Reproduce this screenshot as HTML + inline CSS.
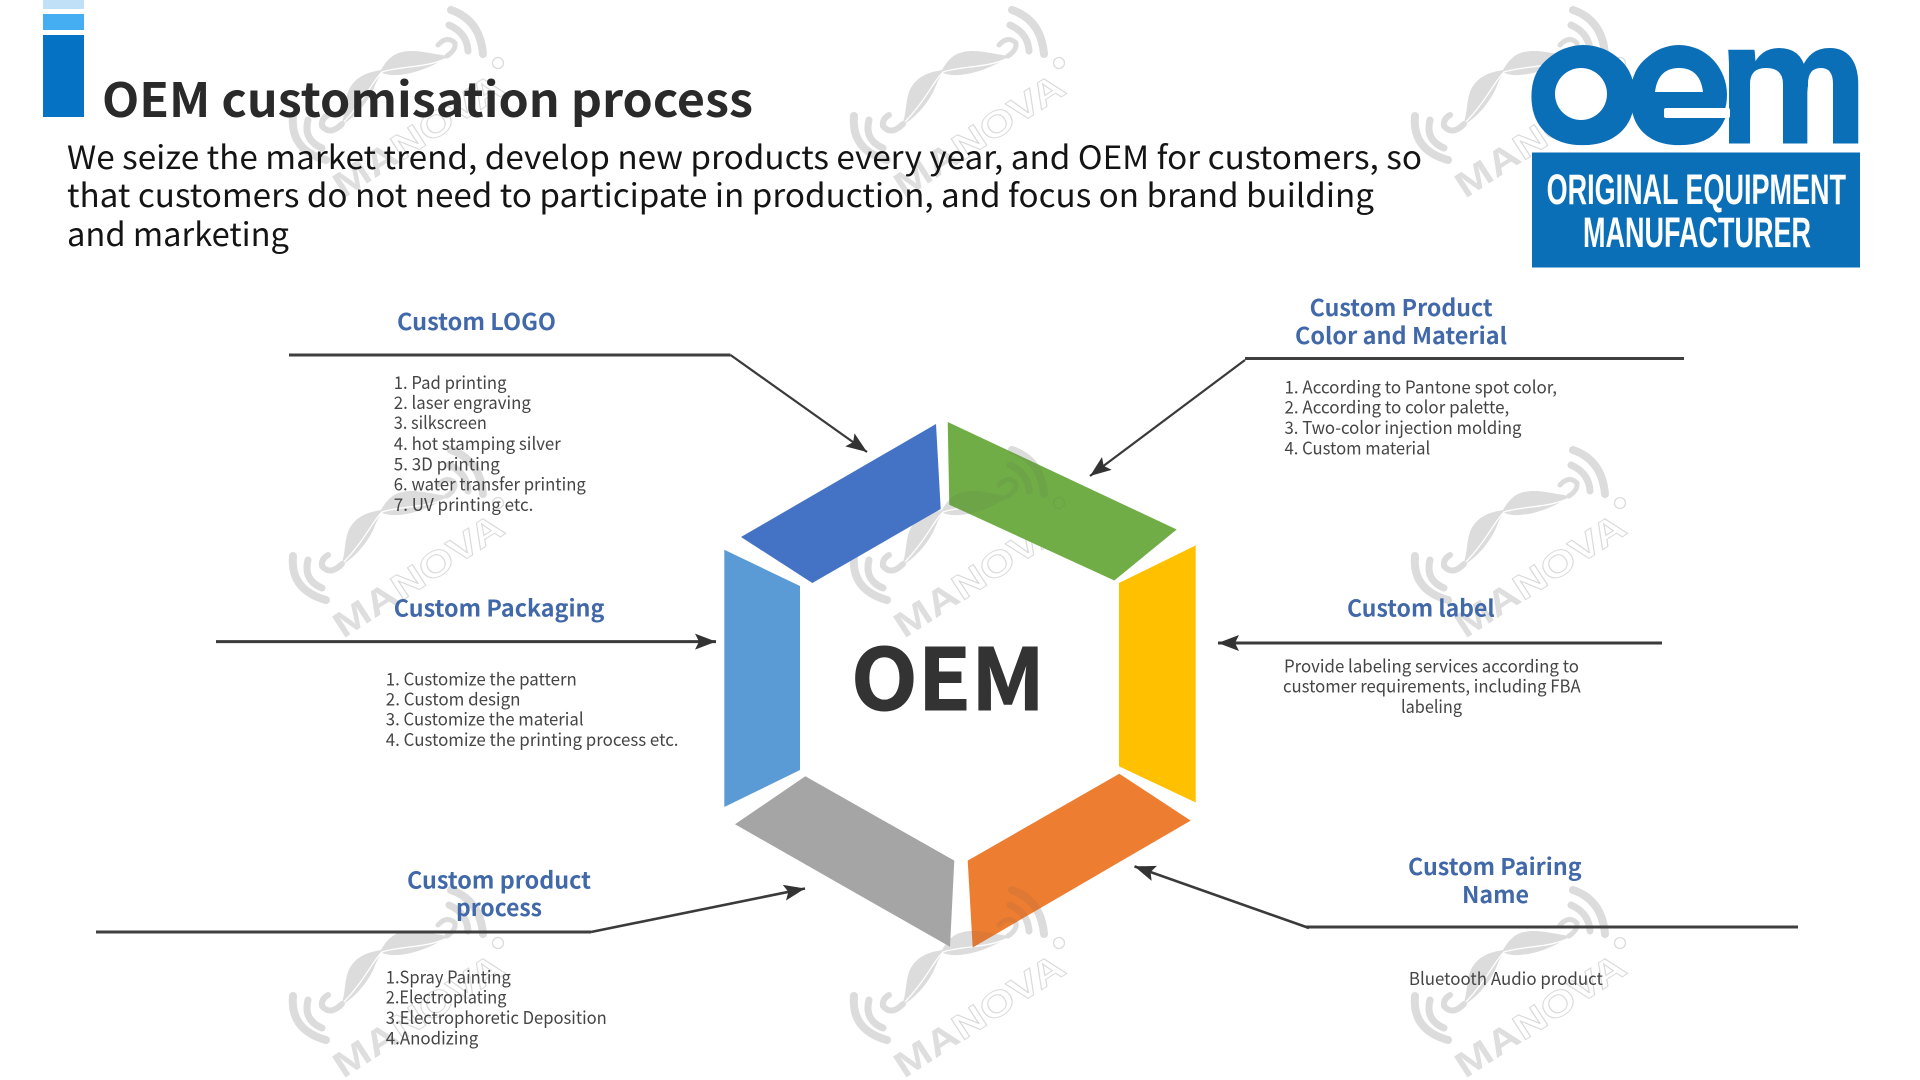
<!DOCTYPE html>
<html><head><meta charset="utf-8"><title>OEM customisation process</title>
<style>
html,body{margin:0;padding:0;background:#fff;width:1920px;height:1080px;overflow:hidden}
svg{display:block}
.t{font-family:"Noto Sans CJK SC","Liberation Sans",sans-serif}
.h{font-family:"Noto Sans CJK SC","Liberation Sans",sans-serif;font-weight:700;font-size:23px;fill:#4168a9}
.l{font-family:"Noto Sans CJK SC","Liberation Sans",sans-serif;font-size:17.5px;fill:#454545}
.b{font-family:"Noto Sans CJK SC","Liberation Sans",sans-serif;font-size:32px;fill:#141414}
.wm{font-family:"Liberation Sans",sans-serif;font-weight:700;font-size:36px}
.wm .f{fill:#dedede}
.wm .o{fill:#fff;stroke:#dadada;stroke-width:1}
.c{stroke:#3f3f3f;stroke-width:3;fill:none}
.a{stroke:#3a3a3a;stroke-width:2.2;fill:none;marker-end:url(#ah)}
</style></head><body>
<svg width="1920" height="1080" viewBox="0 0 1920 1080" xmlns="http://www.w3.org/2000/svg">
<defs>
<marker id="ah" markerUnits="userSpaceOnUse" markerWidth="24" markerHeight="18" refX="21" refY="8" orient="auto"><path d="M0,0 L21,8 L0,16 L4,8 Z" fill="#333"/></marker>
<g id="mark" fill="none" stroke="#dcdcdc" stroke-linecap="round">
<path d="M451,10 Q480,20 483,54" stroke-width="8"/>
<path d="M449,25 Q467,33 468,51" stroke-width="7"/>
<path d="M438,45 Q447,35 455,43 Q456,50 447,56" stroke-width="5"/>
<path d="M449,56 C430,54 412,47 396,54 C388,58 383,66 380,72 C395,80 425,72 449,56 Z" fill="#dcdcdc" stroke="none"/>
<path d="M382,70 C366,72 352,78 347,95 C344,108 345,118 340,126 C355,118 368,102 374,88 C377,80 380,76 382,70 Z" fill="#dcdcdc" stroke="none"/>
<path d="M445,59 C425,68 400,66 382,72 C372,82 365,100 343,123" stroke="#fff" stroke-width="1.3"/>
<path d="M342,124 Q330,136 322,126 Q321,119 328,115" stroke-width="6"/>
<path d="M293,116 Q290,150 326,160" stroke-width="8"/>
<path d="M308,120 Q303,140 322,148" stroke-width="7"/>
<circle cx="498" cy="63" r="5.5" stroke-width="1.3"/>
</g>
<clipPath id="hexclip"><polygon points="947.7,422 1176.7,529.5 1114.3,580.5 949.3,504.7"/><polygon points="1119.3,773.7 1190.7,820.6 972.7,947.5 967.7,860.6"/></clipPath>
</defs>

<!-- watermarks -->
<g>
<use href="#mark"/><use href="#mark" x="561"/><use href="#mark" x="1122"/>
<use href="#mark" y="440"/><use href="#mark" x="561" y="440"/><use href="#mark" x="1122" y="440"/>
<use href="#mark" y="880"/><use href="#mark" x="561" y="880"/><use href="#mark" x="1122" y="880"/>
<text class="wm" transform="translate(343,199) rotate(-33) scale(1.24,1)"><tspan class="f">MA</tspan><tspan class="o">NOVA</tspan></text>
<text class="wm" transform="translate(904,199) rotate(-33) scale(1.24,1)"><tspan class="f">MA</tspan><tspan class="o">NOVA</tspan></text>
<text class="wm" transform="translate(1465,199) rotate(-33) scale(1.24,1)"><tspan class="f">MA</tspan><tspan class="o">NOVA</tspan></text>
<text class="wm" transform="translate(343,639) rotate(-33) scale(1.24,1)"><tspan class="f">MA</tspan><tspan class="o">NOVA</tspan></text>
<text class="wm" transform="translate(904,639) rotate(-33) scale(1.24,1)"><tspan class="f">MA</tspan><tspan class="o">NOVA</tspan></text>
<text class="wm" transform="translate(1465,639) rotate(-33) scale(1.24,1)"><tspan class="f">MA</tspan><tspan class="o">NOVA</tspan></text>
<text class="wm" transform="translate(343,1079) rotate(-33) scale(1.24,1)"><tspan class="f">MA</tspan><tspan class="o">NOVA</tspan></text>
<text class="wm" transform="translate(904,1079) rotate(-33) scale(1.24,1)"><tspan class="f">MA</tspan><tspan class="o">NOVA</tspan></text>
<text class="wm" transform="translate(1465,1079) rotate(-33) scale(1.24,1)"><tspan class="f">MA</tspan><tspan class="o">NOVA</tspan></text>
</g>

<!-- header bars -->
<rect x="43" y="0" width="41" height="9" fill="#bfe0f6"/>
<rect x="43" y="14" width="41" height="16" fill="#45aef2"/>
<rect x="43" y="35" width="41" height="82" fill="#0572c4"/>

<text class="t" x="102" y="117" font-size="47" font-weight="700" fill="#2a2a2a" textLength="651" lengthAdjust="spacingAndGlyphs">OEM customisation process</text>
<text class="b" x="67" y="169" textLength="1355" lengthAdjust="spacingAndGlyphs">We seize the market trend, develop new products every year, and OEM for customers, so</text>
<text class="b" x="67" y="207" textLength="1307" lengthAdjust="spacingAndGlyphs">that customers do not need to participate in production, and focus on brand building</text>
<text class="b" x="67" y="246" textLength="222" lengthAdjust="spacingAndGlyphs">and marketing</text>

<!-- logo -->
<g font-family="'Liberation Sans',sans-serif" font-weight="700" fill="#0b6fb8" stroke="#0b6fb8" stroke-width="5" font-size="168">
<text x="1527" y="141" textLength="112" lengthAdjust="spacingAndGlyphs">o</text>
<text x="1626" y="141" textLength="104" lengthAdjust="spacingAndGlyphs">e</text>
<text x="1720" y="141" textLength="146" lengthAdjust="spacingAndGlyphs">m</text>
</g>
<ellipse cx="1583.5" cy="95" rx="51.5" ry="50" fill="#0b6fb8"/>
<ellipse cx="1679" cy="95" rx="48" ry="50" fill="#0b6fb8"/>
<g fill="#fff">
<ellipse cx="1581" cy="94" rx="26" ry="26"/>
<path d="M1655,92 Q1658,68 1679,68 Q1700,68 1703,92 Z"/>
<rect x="1664" y="108" width="66" height="10" rx="2"/>
<path d="M1750,147 V84 Q1750,68 1766,68 Q1783,68 1783,84 V147 Z"/>
<path d="M1808,147 V84 Q1808,68 1821,68 Q1833,68 1833,84 V147 Z"/>
</g>
<rect x="1532" y="152.5" width="328" height="115" fill="#0b6fb8"/>
<text x="1546.6" y="204" font-family="'Liberation Sans',sans-serif" font-weight="700" font-size="43" fill="#fff" textLength="299.4" lengthAdjust="spacingAndGlyphs">ORIGINAL EQUIPMENT</text>
<text x="1583" y="247" font-family="'Liberation Sans',sans-serif" font-weight="700" font-size="43" fill="#fff" textLength="228" lengthAdjust="spacingAndGlyphs">MANUFACTURER</text>

<!-- hexagon -->
<polygon points="936,424 940.7,509 812.3,583 741,537" fill="#4472c4"/>
<polygon points="947.7,422 1176.7,529.5 1114.3,580.5 949.3,504.7" fill="#70ad47"/>
<polygon points="1195.7,545.4 1195.7,802.5 1119,766.3 1119,583" fill="#ffc000"/>
<polygon points="1119.3,773.7 1190.7,820.6 972.7,947.5 967.7,860.6" fill="#ed7d31"/>
<polygon points="805.3,776.3 954.3,860.6 950,946.8 735,824.3" fill="#a5a5a5"/>
<polygon points="724.3,549.8 800,586 800,770 724.3,807" fill="#5b9bd5"/>
<g clip-path="url(#hexclip)" opacity=".1"><use href="#mark" x="561" y="440" style="filter:brightness(.4)"/><use href="#mark" x="561" y="880" style="filter:brightness(.4)"/></g>

<text class="t" x="851" y="710" font-size="85" font-weight="700" fill="#333" stroke="#333" stroke-width="1" textLength="194" lengthAdjust="spacingAndGlyphs">OEM</text>

<!-- connectors -->
<path class="c" d="M289,355 H730.5"/>
<path class="a" d="M730.5,355 L867,452"/>
<path class="c" d="M1245,358.5 H1684"/>
<path class="a" d="M1245,360 L1090,476"/>
<path class="a" style="stroke-width:3" d="M216,641.6 H716"/>
<path class="a" style="stroke-width:3" d="M1662,643 H1218"/>
<path class="c" d="M96,932 H591"/>
<path class="a" style="stroke-width:2.6" d="M591,932 L805,888.5"/>
<path class="c" d="M1306,927 H1798"/>
<path class="a" style="stroke-width:2.6" d="M1309,928 L1134.5,866.4"/>

<!-- headings -->
<text class="h" x="397" y="330" textLength="159" lengthAdjust="spacingAndGlyphs">Custom LOGO</text>
<text class="h" x="1309.7" y="316" textLength="183" lengthAdjust="spacingAndGlyphs">Custom Product</text>
<text class="h" x="1295" y="344" textLength="212" lengthAdjust="spacingAndGlyphs">Color and Material</text>
<text class="h" x="393.8" y="616.4" textLength="210.6" lengthAdjust="spacingAndGlyphs">Custom Packaging</text>
<text class="h" x="1347" y="616.4" textLength="147.6" lengthAdjust="spacingAndGlyphs">Custom label</text>
<text class="h" x="407" y="888.5" textLength="184" lengthAdjust="spacingAndGlyphs">Custom product</text>
<text class="h" x="456" y="916" textLength="86" lengthAdjust="spacingAndGlyphs">process</text>
<text class="h" x="1408" y="875" textLength="173.6" lengthAdjust="spacingAndGlyphs">Custom Pairing</text>
<text class="h" x="1462" y="903" textLength="67" lengthAdjust="spacingAndGlyphs">Name</text>

<!-- lists -->
<text class="l" x="393.8" y="389" textLength="112.7" lengthAdjust="spacingAndGlyphs">1. Pad printing</text>
<text class="l" x="393.8" y="409" textLength="137" lengthAdjust="spacingAndGlyphs">2. laser engraving</text>
<text class="l" x="393.8" y="429" textLength="93" lengthAdjust="spacingAndGlyphs">3. silkscreen</text>
<text class="l" x="393.8" y="450" textLength="167" lengthAdjust="spacingAndGlyphs">4. hot stamping silver</text>
<text class="l" x="393.8" y="470.4" textLength="106" lengthAdjust="spacingAndGlyphs">5. 3D printing</text>
<text class="l" x="393.8" y="490.4" textLength="192" lengthAdjust="spacingAndGlyphs">6. water transfer printing</text>
<text class="l" x="393.8" y="511" textLength="139.6" lengthAdjust="spacingAndGlyphs">7. UV printing etc.</text>

<text class="l" x="1284.5" y="393.6" textLength="272.5" lengthAdjust="spacingAndGlyphs">1. According to Pantone spot color,</text>
<text class="l" x="1284.5" y="413.6" textLength="224.7" lengthAdjust="spacingAndGlyphs">2. According to color palette,</text>
<text class="l" x="1284.5" y="434" textLength="237" lengthAdjust="spacingAndGlyphs">3. Two-color injection molding</text>
<text class="l" x="1284.5" y="454.5" textLength="145.7" lengthAdjust="spacingAndGlyphs">4. Custom material</text>

<text class="l" x="385.8" y="685.3" textLength="191" lengthAdjust="spacingAndGlyphs">1. Customize the pattern</text>
<text class="l" x="385.8" y="705.3" textLength="134.7" lengthAdjust="spacingAndGlyphs">2. Custom design</text>
<text class="l" x="385.8" y="725.3" textLength="197.8" lengthAdjust="spacingAndGlyphs">3. Customize the material</text>
<text class="l" x="385.8" y="746" textLength="292.7" lengthAdjust="spacingAndGlyphs">4. Customize the printing process etc.</text>

<text class="l" x="1284" y="672.6" textLength="295" lengthAdjust="spacingAndGlyphs">Provide labeling services according to</text>
<text class="l" x="1283" y="692.5" textLength="297.6" lengthAdjust="spacingAndGlyphs">customer requirements, including FBA</text>
<text class="l" x="1401" y="712.9" textLength="61" lengthAdjust="spacingAndGlyphs">labeling</text>

<text class="l" x="385.8" y="983.5" textLength="125" lengthAdjust="spacingAndGlyphs">1.Spray Painting</text>
<text class="l" x="385.8" y="1003.5" textLength="120.6" lengthAdjust="spacingAndGlyphs">2.Electroplating</text>
<text class="l" x="385.8" y="1023.8" textLength="221" lengthAdjust="spacingAndGlyphs">3.Electrophoretic Deposition</text>
<text class="l" x="385.8" y="1044.5" textLength="92.5" lengthAdjust="spacingAndGlyphs">4.Anodizing</text>

<text class="l" x="1408.9" y="985" textLength="194" lengthAdjust="spacingAndGlyphs">Bluetooth Audio product</text>
</svg>
</body></html>
